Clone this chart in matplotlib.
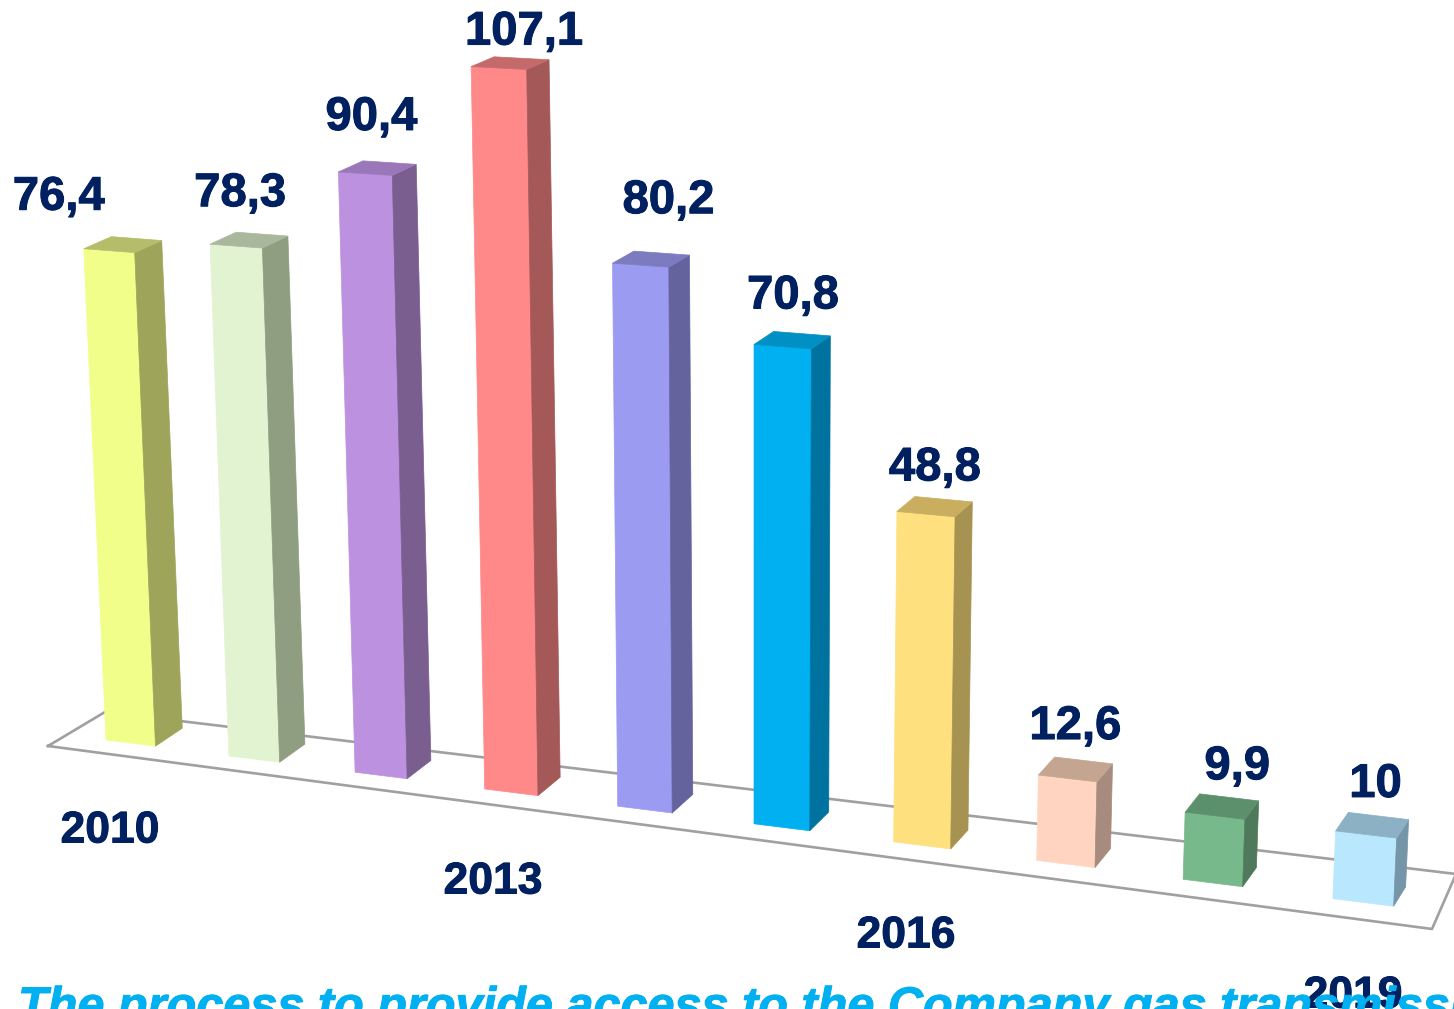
import matplotlib.pyplot as plt
import matplotlib.patheffects as pe

years = ['2010', '2011', '2012', '2013', '2014', '2015', '2016', '2017', '2018', '2019']
values = [76.4, 78.3, 90.4, 107.1, 80.2, 70.8, 48.8, 12.6, 9.9, 10]
value_labels = ['76,4', '78,3', '90,4', '107,1', '80,2', '70,8', '48,8', '12,6', '9,9', '10']
year_ticks = ['2010', '2013', '2016', '2019']
caption = 'The process to provide access to the Company gas transmission system'

front_colors = ['#F2FE8A', '#E1F3D0', '#BC91E0', '#FF8888', '#9C9BF2',
                '#00B0F0', '#FEE17E', '#FFD5C1', '#78B98C', '#B8E7FE']
side_colors = ['#9EA55A', '#8F9E80', '#7A5E90', '#A45858', '#65639E',
               '#0072A0', '#A69352', '#A68B7E', '#4E7A5B', '#7596A8']
top_colors = ['#B5BD6B', '#A9B79C', '#9A77B8', '#C46A6A', '#7C7BC0',
              '#0090C4', '#C9AE60', '#C4A592', '#5C8F6C', '#8CB1C5']

navy = '#002060'
cyan = '#00B0F0'
floor_col = '#A0A0A0'

# label placement relative to the top left of each bar
label_dx = [-25, 30, 33, 53, 56, 39, 38, 37, 52, 40]
label_dy = [-51, -50, -54, -34, -62, -48, -43, -48, -45, -46]
year_pos = [(110, 831), (493, 882), (906, 936), (1353, 996)]
floor = [(48, 746), (105, 712), (1456, 874), (1432, 929)]

fig = plt.figure(figsize=(14.54, 10.09), dpi=100)
ax = fig.add_axes([0, 0, 1, 1])
ax.set_xlim(0, 1454)
ax.set_ylim(1009, 0)
ax.axis('off')

# a little thicker, the source text is soft
fat = [pe.withStroke(linewidth=0.7, foreground=navy)]
fat_c = [pe.withStroke(linewidth=0.7, foreground=cyan)]


# fake perspective: bar index + height -> position on the picture
def corner(i, u, d, h):
    bx = 106 + 121.2 * i + 1.68 * i ** 2
    by = 740 + 0.1293 * (bx - 106)
    w = (49.5 + 1.25 * i) * (1 + h * 6e-5)
    x = bx + (bx - 753) * 7e-5 * h + u * w
    y = by - h + u * w * (0.125 - 1e-4 * h)
    x2 = x + d * (28.6 - 0.0119 * x)
    y2 = y - d * (18 + 0.15 * i - 0.012 * h)
    return x2, y2


def face(pts, col):
    xs = [p[0] for p in pts]
    ys = [p[1] for p in pts]
    ax.fill(xs, ys, color=col, lw=0.5, zorder=3)


xs = [p[0] for p in floor] + [floor[0][0]]
ys = [p[1] for p in floor] + [floor[0][1]]
ax.plot(xs, ys, color=floor_col, lw=1.9, zorder=1)

for i, v in enumerate(values):
    h = v * min(6.43 + 0.105 * i, 6.77)
    face([corner(i, 0, 0, 0), corner(i, 1, 0, 0), corner(i, 1, 0, h), corner(i, 0, 0, h)], front_colors[i])
    face([corner(i, 1, 0, 0), corner(i, 1, 1, 0), corner(i, 1, 1, h), corner(i, 1, 0, h)], side_colors[i])
    face([corner(i, 0, 0, h), corner(i, 1, 0, h), corner(i, 1, 1, h), corner(i, 0, 1, h)], top_colors[i])
    tx, ty = corner(i, 0, 0, h)
    ax.text(tx + label_dx[i], ty + label_dy[i], value_labels[i], color=navy, fontsize=34,
            family='Liberation Sans', weight='bold', ha='center', va='center', zorder=5,
            path_effects=fat)

for lab, (x, y) in zip(year_ticks, year_pos):
    ax.text(x, y, lab, color=navy, fontsize=32, family='Liberation Sans', weight='bold',
            ha='center', va='center', zorder=5, path_effects=fat)

ax.text(18, 1021, caption, color=cyan, fontsize=35, family='Liberation Sans', weight='bold',
        style='italic', ha='left', va='baseline', zorder=6, clip_on=True, path_effects=fat_c)

fig.savefig('out.png', dpi=100)
